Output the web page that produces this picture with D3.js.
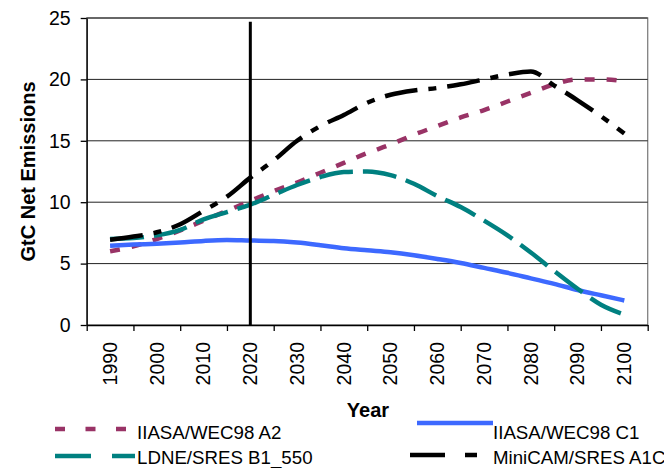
<!DOCTYPE html>
<html>
<head>
<meta charset="utf-8">
<script src="https://cdn.jsdelivr.net/npm/d3@7"></script>
<style>
  body { margin:0; background:#fff; }
  svg { font-family: "Liberation Sans", Arial, sans-serif; }
</style>
</head>
<body>
<svg id="chart" width="664" height="468"></svg>
<script>
// years of the series, every 5 years
var years = [1990,1995,2000,2005,2010,2015,2020,2025,2030,2035,2040,2045,2050,2055,2060,2065,2070,2075,2080,2085,2090,2095,2100];
var a2  = [6.0,6.4,7.0,7.7,8.5,9.3,10.1,10.9,11.6,12.4,13.2,14.0,14.7,15.5,16.2,16.9,17.5,18.2,18.9,19.6,20.0,20.0,19.85];
var c1  = [6.45,6.55,6.62,6.72,6.85,6.92,6.88,6.85,6.72,6.5,6.25,6.08,5.92,5.68,5.38,5.05,4.65,4.25,3.8,3.35,2.85,2.42,2.0];
var b1  = [7.0,7.08,7.3,7.75,8.6,9.2,9.8,10.6,11.4,12.05,12.45,12.5,12.2,11.5,10.5,9.6,8.5,7.3,5.9,4.4,2.95,1.65,0.85];
var a1c = [6.95,7.2,7.55,8.2,9.3,10.45,12.0,13.4,15.0,16.2,17.1,18.1,18.75,19.1,19.3,19.6,20.0,20.4,20.65,19.5,18.3,17.0,15.6];
var seriesNames = ['IIASA/WEC98 A2','IIASA/WEC98 C1','LDNE/SRES B1_550','MiniCAM/SRES A1C'];
var yTicks = [0,5,10,15,20,25];
var xLabels = [1990,2000,2010,2020,2030,2040,2050,2060,2070,2080,2090,2100];
var markerYear = 2020;
var markerTop = 24.7;

var margin = {top:18, left:86.7, right:16.3, bottom:143};
var width = 664, height = 468;
var plotW = width - margin.left - margin.right,
    plotH = height - margin.top - margin.bottom;

var svg = d3.select('#chart');

var x = d3.scaleLinear().domain([1985,2105]).range([margin.left, margin.left+plotW]);
var y = d3.scaleLinear().domain([0,25]).range([margin.top+plotH, margin.top]);

var series = [
    {name:seriesNames[0], values:a2,  color:'#993366', dash:'10,12', legDash:'10,20.5'},
    {name:seriesNames[1], values:c1,  color:'#3d69ff', dash:null,    legDash:null},
    {name:seriesNames[2], values:b1,  color:'#008080', dash:'34,10', legDash:'36,21'},
    {name:seriesNames[3], values:a1c, color:'#000000', dash:'33,11,8,11', legDash:'35,20,12,99'}
];

// plot area border
svg.append('rect')
    .attr('x',margin.left).attr('y',margin.top)
    .attr('width',plotW).attr('height',plotH)
    .attr('fill','none').attr('stroke','#808080').attr('stroke-width',1.3);

// gridlines
svg.selectAll('.grid')
    .data(yTicks.filter(d => d > 0))
    .join('line')
    .attr('class','grid')
    .attr('x1',margin.left).attr('x2',margin.left+plotW)
    .attr('y1',d => y(d)).attr('y2',d => y(d))
    .attr('stroke','#222').attr('stroke-width',1);

// y axis
var yAxis = d3.axisLeft(y).tickValues(yTicks).tickSize(6).tickPadding(10).tickSizeOuter(0);
var gy = svg.append('g')
    .attr('transform','translate('+margin.left+',0)')
    .call(yAxis);
gy.select('.domain').attr('stroke','#000').attr('stroke-width',1.3);
gy.selectAll('.tick line').attr('stroke','#000').attr('stroke-width',1.3);
gy.selectAll('.tick text').attr('font-size','19.5px').attr('fill','#000').attr('font-family','"Liberation Sans", Arial, sans-serif');

// x axis, ticks between categories
var xAxis = d3.axisBottom(x).tickValues(d3.range(1985,2106,10)).tickSize(6).tickFormat('').tickSizeOuter(0);
var gx = svg.append('g')
    .attr('transform','translate(0,'+(margin.top+plotH)+')')
    .call(xAxis);
gx.select('.domain').attr('stroke','#000').attr('stroke-width',1.3);
gx.selectAll('.tick line').attr('stroke','#000').attr('stroke-width',1.3);

svg.selectAll('.xlab')
    .data(xLabels)
    .join('text')
    .attr('class','xlab')
    .attr('transform',d => 'translate('+x(d)+','+(margin.top+plotH+17)+') rotate(-90)')
    .attr('text-anchor','end')
    .attr('dy','0.35em')
    .attr('font-size','19.5px')
    .text(d => d);

// axis titles
svg.append('text')
    .attr('transform','translate(35,'+(margin.top+plotH/2)+') rotate(-90)')
    .attr('text-anchor','middle')
    .attr('font-size','20px').attr('font-weight','bold')
    .text('GtC Net Emissions');
svg.append('text')
    .attr('x',368).attr('y',417)
    .attr('text-anchor','middle')
    .attr('font-size','20px').attr('font-weight','bold')
    .text('Year');

// series lines
var line = d3.line()
    .x((d,i) => x(years[i]))
    .y(d => y(d))
    .curve(d3.curveMonotoneX);

svg.selectAll('.series')
    .data(series)
    .join('path')
    .attr('class','series')
    .attr('d',d => line(d.values))
    .attr('fill','none')
    .attr('stroke',d => d.color)
    .attr('stroke-width',4.5)
    .attr('stroke-dasharray',d => d.dash);

// vertical marker at 2020
svg.append('line')
    .attr('x1',x(markerYear)).attr('x2',x(markerYear))
    .attr('y1',y(0)).attr('y2',y(markerTop))
    .attr('stroke','#000').attr('stroke-width',3);

// legend
var legendPos = [
    {x1:55,  x2:127, ly:429, tx:137, ty:432},
    {x1:417, x2:493, ly:423, tx:493, ty:432},
    {x1:55,  x2:135, ly:456, tx:137, ty:457},
    {x1:410, x2:477, ly:455, tx:493, ty:457}
];
series.forEach(function(s,i){
    var p = legendPos[i];
    svg.append('line')
        .attr('x1',p.x1).attr('x2',p.x2)
        .attr('y1',p.ly).attr('y2',p.ly)
        .attr('stroke',s.color).attr('stroke-width',4.5)
        .attr('stroke-dasharray',s.legDash);
    svg.append('text')
        .attr('x',p.tx).attr('y',p.ty)
        .attr('dy','0.35em')
        .attr('font-size','18.7px')
        .text(s.name);
});
</script>
</body>
</html>
